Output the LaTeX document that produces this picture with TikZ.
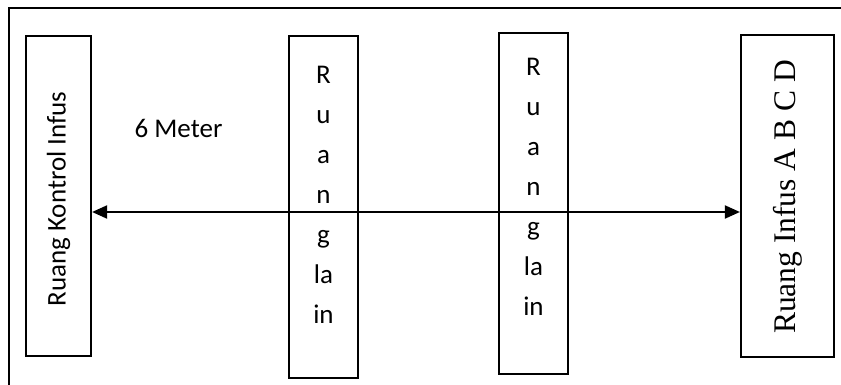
\documentclass[tikz,border=0pt]{standalone}
\usepackage{fontspec}
\setmainfont{Carlito}
\newfontfamily\timesf{Liberation Serif}
\usetikzlibrary{arrows.meta}
\begin{document}
\begin{tikzpicture}[x=1pt,y=-1pt,
  box/.style={draw=black,line width=2.2pt,inner sep=0pt,fill=none},
  lbl/.style={font=\fontsize{27}{27}\selectfont,inner sep=0pt},
  stack/.style={font=\fontsize{27}{40}\selectfont,align=center,inner sep=0pt},
  conn/.style={line width=2pt,{Triangle[length=15pt,width=13pt]}-{Triangle[length=15pt,width=13pt]}}]
\useasboundingbox (0,0) rectangle (841,385);
% outer frame (clipped at right and bottom)
\draw[line width=2.5pt] (9,390) -- (9,8) -- (846,8);
% boxes
\node[box,minimum width=65pt,minimum height=320pt] (kontrol) at (58.5,196) {};
\node[box,minimum width=69pt,minimum height=342pt] (lain1) at (323.5,207) {};
\node[box,minimum width=69pt,minimum height=341pt] (lain2) at (533.5,203.5) {};
\node[box,minimum width=93pt,minimum height=322pt] (infus) at (787.5,196) {};
% texts
\node[lbl] (t1) at (58.5,199) {\rotatebox{90}{Ruang Kontrol Infus}};
\node[lbl,font=\timesf\fontsize{31.5}{31.5}\selectfont] (t4) at (787.5,197) {\rotatebox{90}{Ruang Infus A B C D}};
\node[stack] (t2) at (323.5,195) {R\\u\\a\\n\\g\\la\\in};
\node[stack] (t3) at (533.5,187) {R\\u\\a\\n\\g\\la\\in};
\node[lbl] (dist) at (178.5,128) {6 Meter};
% connector
\coordinate (ay) at (0,212);
\draw[conn] (kontrol.east |- ay) -- (infus.west |- ay);
\end{tikzpicture}
\end{document}
